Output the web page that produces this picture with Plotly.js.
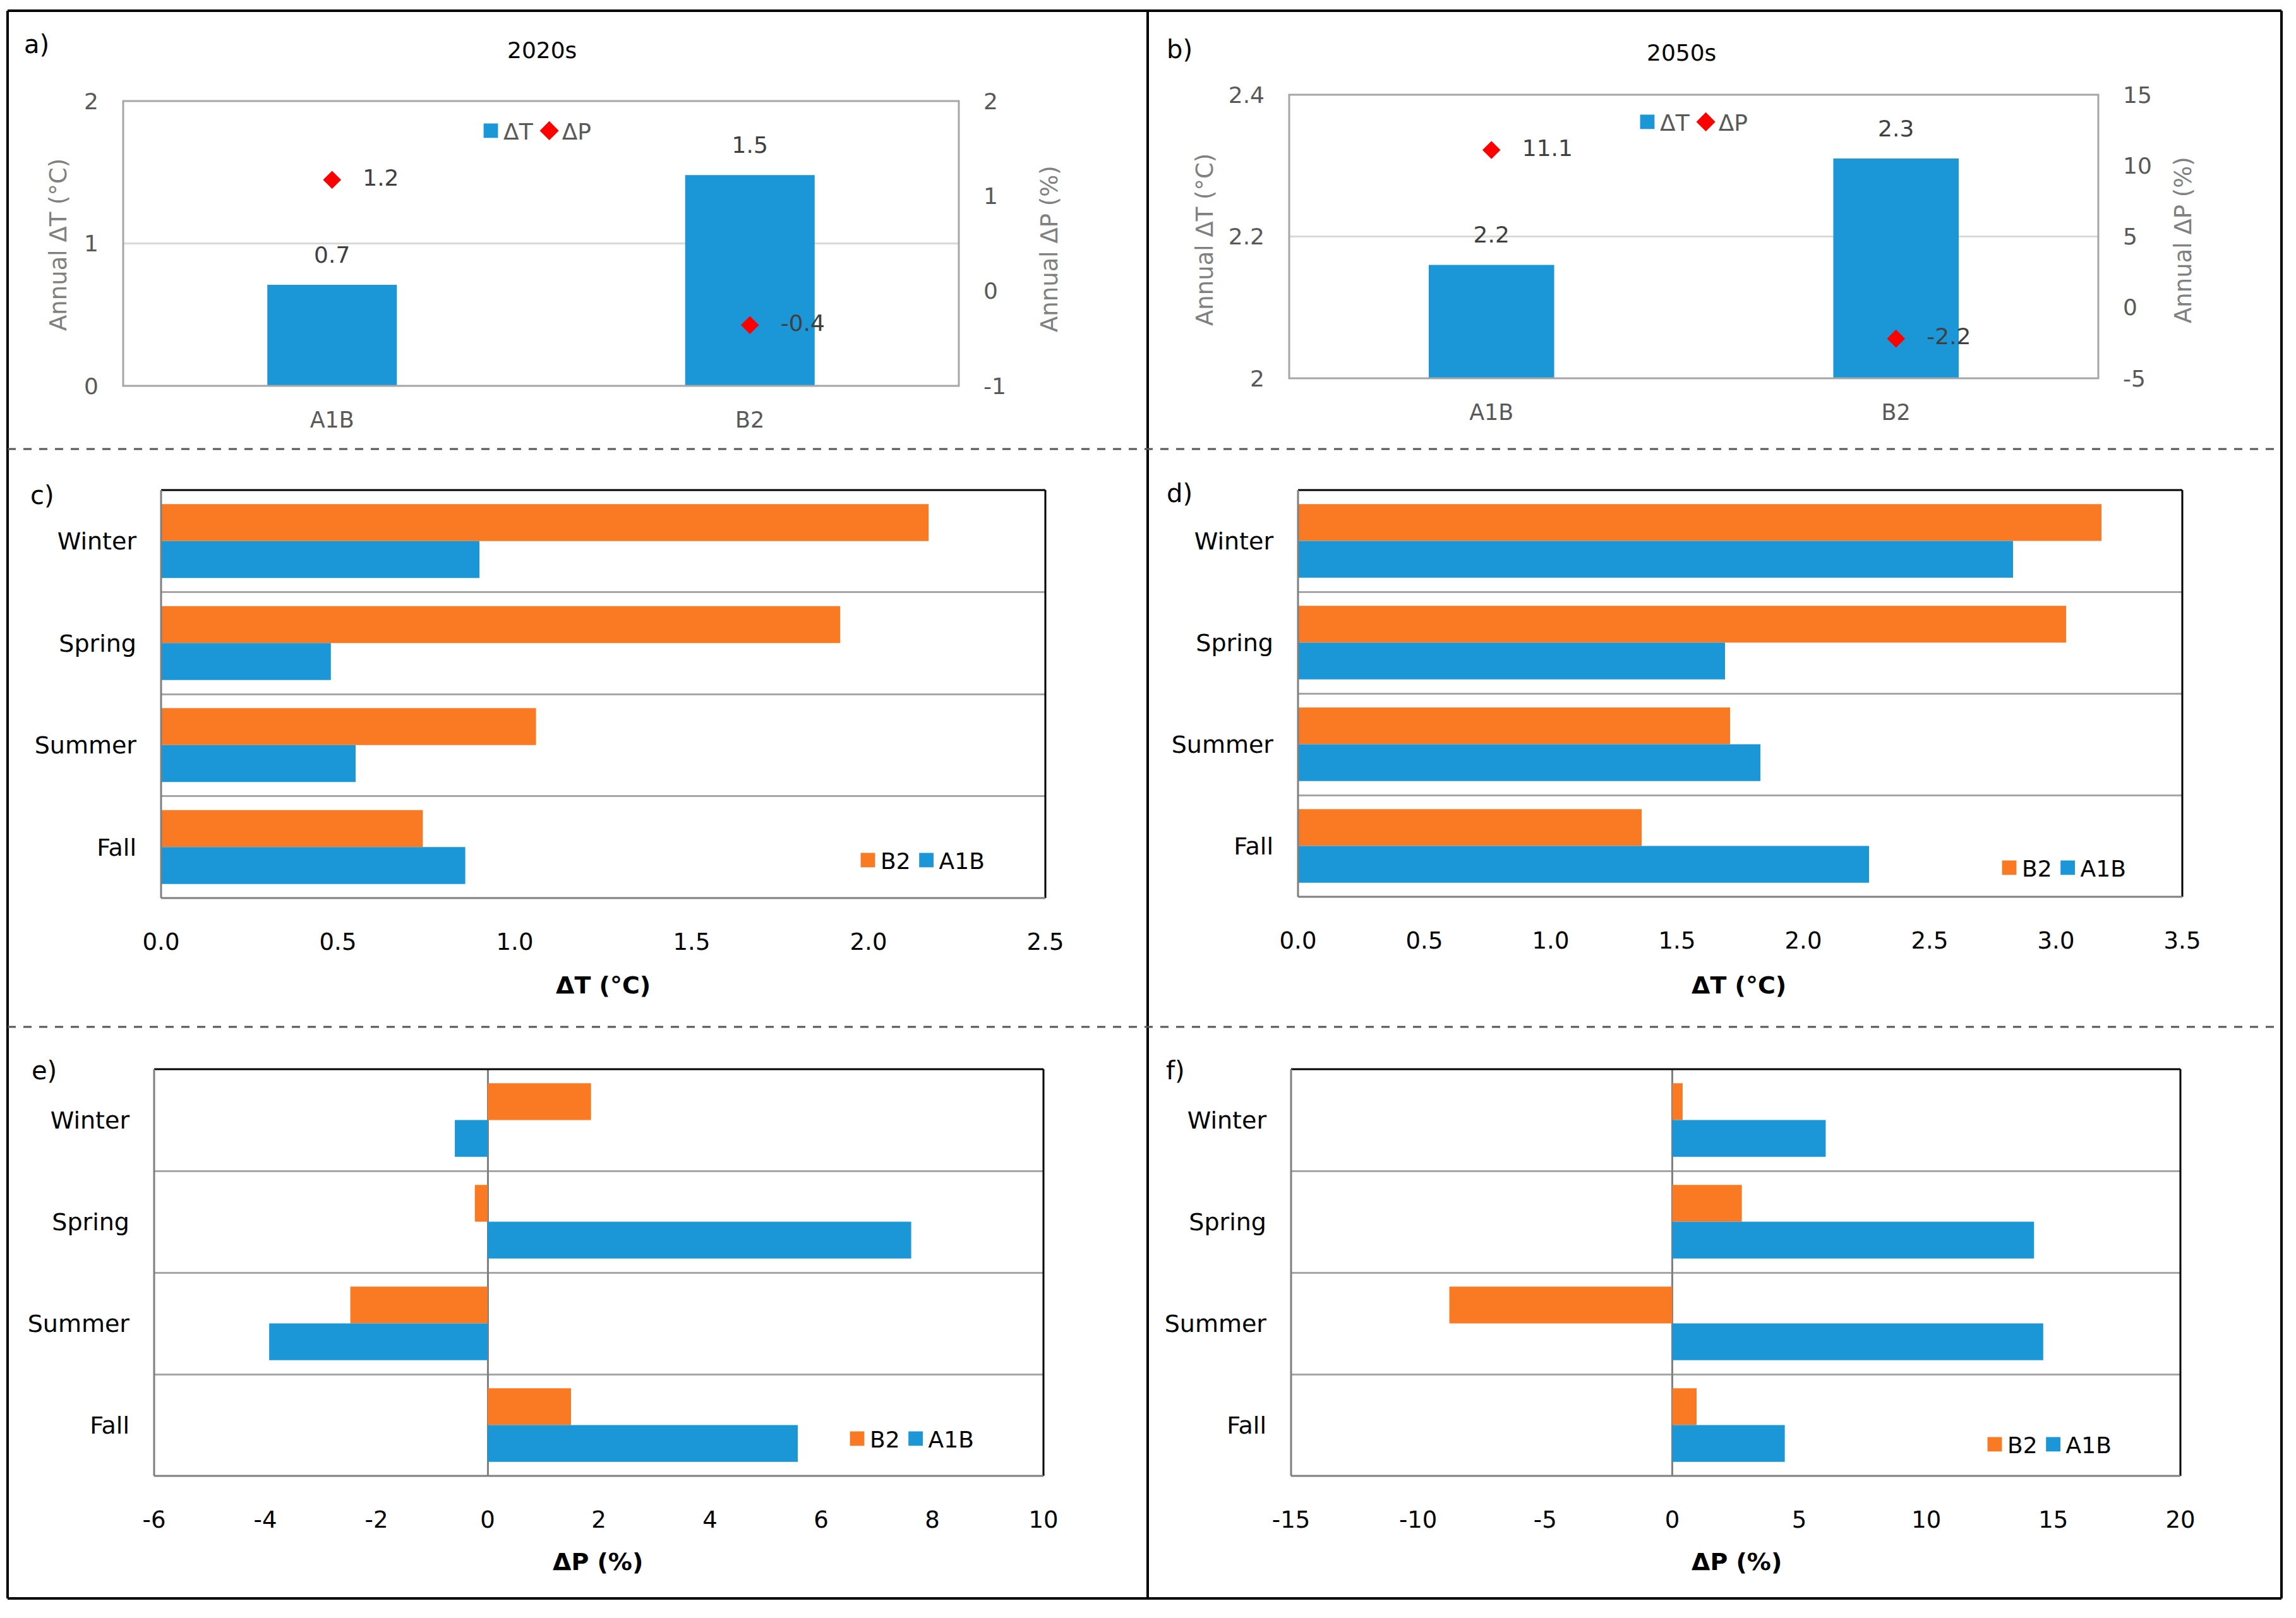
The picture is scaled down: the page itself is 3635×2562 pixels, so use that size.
<!DOCTYPE html>
<html>
<head>
<meta charset="utf-8">
<script src="https://cdn.plot.ly/plotly-3.0.1.min.js"></script>
<style>html,body{margin:0;padding:0;background:#fff;}#chart{width:3635px;height:2562px;}</style>
</head>
<body>
<div id="chart"></div>
<script>
// ---------------- data ----------------
const scenarios = ['A1B', 'B2'];
const annualT2020s = [0.71, 1.48];
const annualP2020s = [1.17, -0.36];
const annualT2050s = [2.16, 2.31];
const annualP2050s = [11.1, -2.2];

const seasons = ['Winter', 'Spring', 'Summer', 'Fall'];
const dT2020sA1B = [0.90, 0.48, 0.55, 0.86];
const dT2020sB2  = [2.17, 1.92, 1.06, 0.74];
const dT2050sA1B = [2.83, 1.69, 1.83, 2.26];
const dT2050sB2  = [3.18, 3.04, 1.71, 1.36];
const dP2020sA1B = [-0.59, 7.62, -3.93, 5.58];
const dP2020sB2  = [1.86, -0.23, -2.47, 1.50];
const dP2050sA1B = [6.04, 14.24, 14.60, 4.43];
const dP2050sB2  = [0.41, 2.74, -8.77, 0.96];

// tick labels (hyphen minus, as in the original)
const tickP2020sAnnualVals = [-1, 0, 1, 2];
const tickP2020sAnnualText = ['-1', '0', '1', '2'];
const tickP2050sAnnualVals = [-5, 0, 5, 10, 15];
const tickP2050sAnnualText = ['-5', '0', '5', '10', '15'];
const tickP2020sVals = [-6, -4, -2, 0, 2, 4, 6, 8, 10];
const tickP2020sText = ['-6', '-4', '-2', '0', '2', '4', '6', '8', '10'];
const tickP2050sVals = [-15, -10, -5, 0, 5, 10, 15, 20];
const tickP2050sText = ['-15', '-10', '-5', '0', '5', '10', '15', '20'];

// ---------------- style ----------------
const W = 3635, H = 2562;
const px = v => v / W;
const py = v => 1 - v / H;
const BLUE = '#1B96D6', ORANGE = '#F97A22', RED = '#FF0000';
const FONT = 'DejaVu Sans, Liberation Sans, sans-serif';
const GRAYTXT = '#595959';

const traces = [];
// panel a
traces.push({type:'bar', x:scenarios, y:annualT2020s, xaxis:'x', yaxis:'y', width:0.31,
  marker:{color:BLUE}, name:'ΔT', legend:'legend', hoverinfo:'skip'});
traces.push({type:'scatter', mode:'markers', x:scenarios, y:annualP2020s, xaxis:'x', yaxis:'y2',
  marker:{symbol:'diamond', size:22, color:RED}, name:'ΔP', legend:'legend', hoverinfo:'skip'});
traces.push({type:'scatter', mode:'markers+text', x:scenarios, y:annualT2020s, xaxis:'x', yaxis:'y',
  marker:{size:40, opacity:0}, texttemplate:'%{y:.1f}', textposition:'top center',
  textfont:{size:36, color:'#404040'}, showlegend:false, hoverinfo:'skip', cliponaxis:false});
traces.push({type:'scatter', mode:'markers+text', x:scenarios, y:annualP2020s, xaxis:'x', yaxis:'y2',
  marker:{size:76, opacity:0}, texttemplate:'%{y:.1f}', textposition:'middle right',
  textfont:{size:36, color:'#404040'}, showlegend:false, hoverinfo:'skip', cliponaxis:false});
// panel b
traces.push({type:'bar', x:scenarios, y:annualT2050s, xaxis:'x2', yaxis:'y3', width:0.31,
  marker:{color:BLUE}, name:'ΔT', legend:'legend2', hoverinfo:'skip'});
traces.push({type:'scatter', mode:'markers', x:scenarios, y:annualP2050s, xaxis:'x2', yaxis:'y4',
  marker:{symbol:'diamond', size:22, color:RED}, name:'ΔP', legend:'legend2', hoverinfo:'skip'});
traces.push({type:'scatter', mode:'markers+text', x:scenarios, y:annualT2050s, xaxis:'x2', yaxis:'y3',
  marker:{size:40, opacity:0}, texttemplate:'%{y:.1f}', textposition:'top center',
  textfont:{size:36, color:'#404040'}, showlegend:false, hoverinfo:'skip', cliponaxis:false});
traces.push({type:'scatter', mode:'markers+text', x:scenarios, y:annualP2050s, xaxis:'x2', yaxis:'y4',
  marker:{size:76, opacity:0}, texttemplate:'%{y:.1f}', textposition:'middle right',
  textfont:{size:36, color:'#404040'}, showlegend:false, hoverinfo:'skip', cliponaxis:false});

// seasonal panels c-f
function seasonal(xa, ya, leg, b2, a1b) {
  traces.push({type:'bar', orientation:'h', y:seasons, x:b2, xaxis:xa, yaxis:ya,
    marker:{color:ORANGE}, name:'B2', legend:leg, hoverinfo:'skip'});
  traces.push({type:'bar', orientation:'h', y:seasons, x:a1b, xaxis:xa, yaxis:ya,
    marker:{color:BLUE}, name:'A1B', legend:leg, hoverinfo:'skip'});
}
seasonal('x3', 'y5', 'legend3', dT2020sB2, dT2020sA1B);
seasonal('x4', 'y6', 'legend4', dT2050sB2, dT2050sA1B);
seasonal('x5', 'y7', 'legend5', dP2020sB2, dP2020sA1B);
seasonal('x6', 'y8', 'legend6', dP2050sB2, dP2050sA1B);

// ---------------- axes ----------------
const catX = (d, anchor) => ({domain:d, anchor:anchor, type:'category', ticks:'', showline:false,
  showgrid:false, zeroline:false, tickfont:{size:35, color:GRAYTXT}, ticklabelstandoff:30, fixedrange:true});
const valY = (d, anchor, range, dtick, grid) => ({domain:d, anchor:anchor, range:range, dtick:dtick,
  showgrid:grid, gridcolor:'#D9D9D9', gridwidth:3, zeroline:false, showline:false, ticks:'',
  tickfont:{size:36, color:GRAYTXT}, ticklabelstandoff:38, fixedrange:true});
const valX = (d, anchor, range, dtick, fmt, zl) => ({domain:d, anchor:anchor, range:range, dtick:dtick,
  tickformat:fmt, showgrid:false, zeroline:zl, zerolinecolor:'#808080', zerolinewidth:3, showline:false,
  ticks:'', tickfont:{size:37, color:'#000'}, ticklabelstandoff:44, fixedrange:true});
const catY = (d, anchor) => ({domain:d, anchor:anchor, type:'category', autorange:'reversed',
  tickson:'boundaries', ticks:'', showgrid:true, gridcolor:'#A6A6A6', gridwidth:3, showline:false,
  zeroline:false, tickfont:{size:38, color:'#000'}, ticklabelstandoff:38, fixedrange:true});
const withTicks = (ax, vals, text) => Object.assign(ax, {tickmode:'array', tickvals:vals, ticktext:text});

const dA = {x:[px(195), px(1518)], y:[py(611), py(160)]};
const dB = {x:[px(2041), px(3322)], y:[py(599), py(150)]};
const dC = {x:[px(255), px(1655)], y:[py(1422), py(776)]};
const dD = {x:[px(2055), px(3455)], y:[py(1420), py(776)]};
const dE = {x:[px(244), px(1652)], y:[py(2337), py(1693)]};
const dF = {x:[px(2044), px(3452)], y:[py(2337), py(1693)]};

const layout = {
  width:W, height:H, margin:{l:0, r:0, t:0, b:0},
  paper_bgcolor:'#ffffff', plot_bgcolor:'rgba(0,0,0,0)',
  font:{family:FONT, size:36, color:'#000'},
  barmode:'group', bargap:0.275, bargroupgap:0,
  hovermode:false,
  xaxis: catX(dA.x, 'y'),
  yaxis: valY(dA.y, 'x', [0, 2], 1, true),
  yaxis2: withTicks(Object.assign(valY(dA.y, 'x', [-1, 2], 1, false), {overlaying:'y', side:'right'}),
    tickP2020sAnnualVals, tickP2020sAnnualText),
  xaxis2: catX(dB.x, 'y3'),
  yaxis3: valY(dB.y, 'x2', [2, 2.4], 0.2, true),
  yaxis4: withTicks(Object.assign(valY(dB.y, 'x2', [-5, 15], 5, false), {overlaying:'y3', side:'right'}),
    tickP2050sAnnualVals, tickP2050sAnnualText),
  xaxis3: valX(dC.x, 'y5', [0, 2.5], 0.5, '.1f', false),
  yaxis5: catY(dC.y, 'x3'),
  xaxis4: valX(dD.x, 'y6', [0, 3.5], 0.5, '.1f', false),
  yaxis6: catY(dD.y, 'x4'),
  xaxis5: withTicks(valX(dE.x, 'y7', [-6, 10], 2, '', true), tickP2020sVals, tickP2020sText),
  yaxis7: catY(dE.y, 'x5'),
  xaxis6: withTicks(valX(dF.x, 'y8', [-15, 20], 5, '', true), tickP2050sVals, tickP2050sText),
  yaxis8: catY(dF.y, 'x6'),
};

const legBase = (x, y, color) => ({orientation:'h', x:px(x), y:py(y), xanchor:'center', yanchor:'middle',
  bgcolor:'rgba(0,0,0,0)', font:{size:36, color:color}, itemwidth:30, tracegroupgap:0});
layout.legend  = legBase(849, 207, GRAYTXT);
layout.legend2 = legBase(2680, 193, GRAYTXT);
layout.legend3 = legBase(1459, 1362, '#000');
layout.legend4 = legBase(3266, 1374, '#000');
layout.legend5 = legBase(1442, 2278, '#000');
layout.legend6 = legBase(3243, 2287, '#000');

// ---------------- annotations ----------------
const ann = (text, x, y, size, opts) => Object.assign({text:text, x:px(x), y:py(y), xref:'paper', yref:'paper',
  showarrow:false, xanchor:'center', yanchor:'middle', font:{size:size, color:'#000', family:FONT}}, opts || {});
const vt = {textangle:-90, font:{size:37, color:'#808080', family:FONT}};
layout.annotations = [
  ann('a)', 58, 70, 40), ann('b)', 1867, 78, 40), ann('c)', 67, 784, 40),
  ann('d)', 1867, 781, 40), ann('e)', 70, 1695, 40), ann('f)', 1861, 1695, 40),
  ann('2020s', 858, 79, 36), ann('2050s', 2662, 83, 36),
  ann('Annual ΔT (°C)', 93, 388, 37, vt),
  ann('Annual ΔP (%)', 1662, 394, 37, vt),
  ann('Annual ΔT (°C)', 1908, 380, 37, vt),
  ann('Annual ΔP (%)', 3457, 380, 37, vt),
  ann('<b>ΔT (°C)</b>', 955, 1560, 38), ann('<b>ΔT (°C)</b>', 2753, 1560, 38),
  ann('<b>ΔP (%)</b>', 946, 2473, 38), ann('<b>ΔP (%)</b>', 2749, 2473, 38),
];

// ---------------- frames ----------------
const shapes = [];
const line = (x0, y0, x1, y1, color, width, dash) => ({type:'line', xref:'paper', yref:'paper',
  x0:px(x0), y0:py(y0), x1:px(x1), y1:py(y1), line:{color:color, width:width, dash:dash || 'solid'}, layer:'above'});
shapes.push(line(12, 17, 3612, 17, '#000', 4));
shapes.push(line(12, 2531, 3612, 2531, '#000', 4));
shapes.push(line(12, 17, 12, 2531, '#000', 4));
shapes.push(line(3612, 17, 3612, 2531, '#000', 4));
shapes.push(line(1817, 17, 1817, 2531, '#000', 4));
shapes.push(line(12, 711, 3612, 711, '#555', 3, '13px,12px'));
shapes.push(line(12, 1626, 3612, 1626, '#555', 3, '13px,12px'));

function boxGray(xa, ya) {
  shapes.push({type:'rect', xref:xa + ' domain', yref:ya + ' domain', x0:0, x1:1, y0:0, y1:1,
    line:{color:'#A6A6A6', width:3}, layer:'above'});
}
boxGray('x', 'y'); boxGray('x2', 'y3');
function boxBlack(xa, ya) {
  const s = (x0, y0, x1, y1, c) => ({type:'line', xref:xa + ' domain', yref:ya + ' domain',
    x0:x0, y0:y0, x1:x1, y1:y1, line:{color:c, width:3}, layer:'above'});
  shapes.push(s(0, 1, 1, 1, '#000'), s(1, 0, 1, 1, '#000'), s(0, 0, 0, 1, '#7F7F7F'), s(0, 0, 1, 0, '#7F7F7F'));
}
boxBlack('x3', 'y5'); boxBlack('x4', 'y6'); boxBlack('x5', 'y7'); boxBlack('x6', 'y8');
layout.shapes = shapes;

Plotly.newPlot('chart', traces, layout, {staticPlot:true, displayModeBar:false}).then(gd => {
  // enlarge the small legend keys to match the original legend symbols
  gd.querySelectorAll('.legendpoints path').forEach(p => {
    const k = p.classList.contains('scatterpts') ? 1.45 : 1.9;
    const t = p.getAttribute('transform') || '';
    p.setAttribute('transform', t + ' scale(' + k + ')');
  });
});
</script>
</body>
</html>
